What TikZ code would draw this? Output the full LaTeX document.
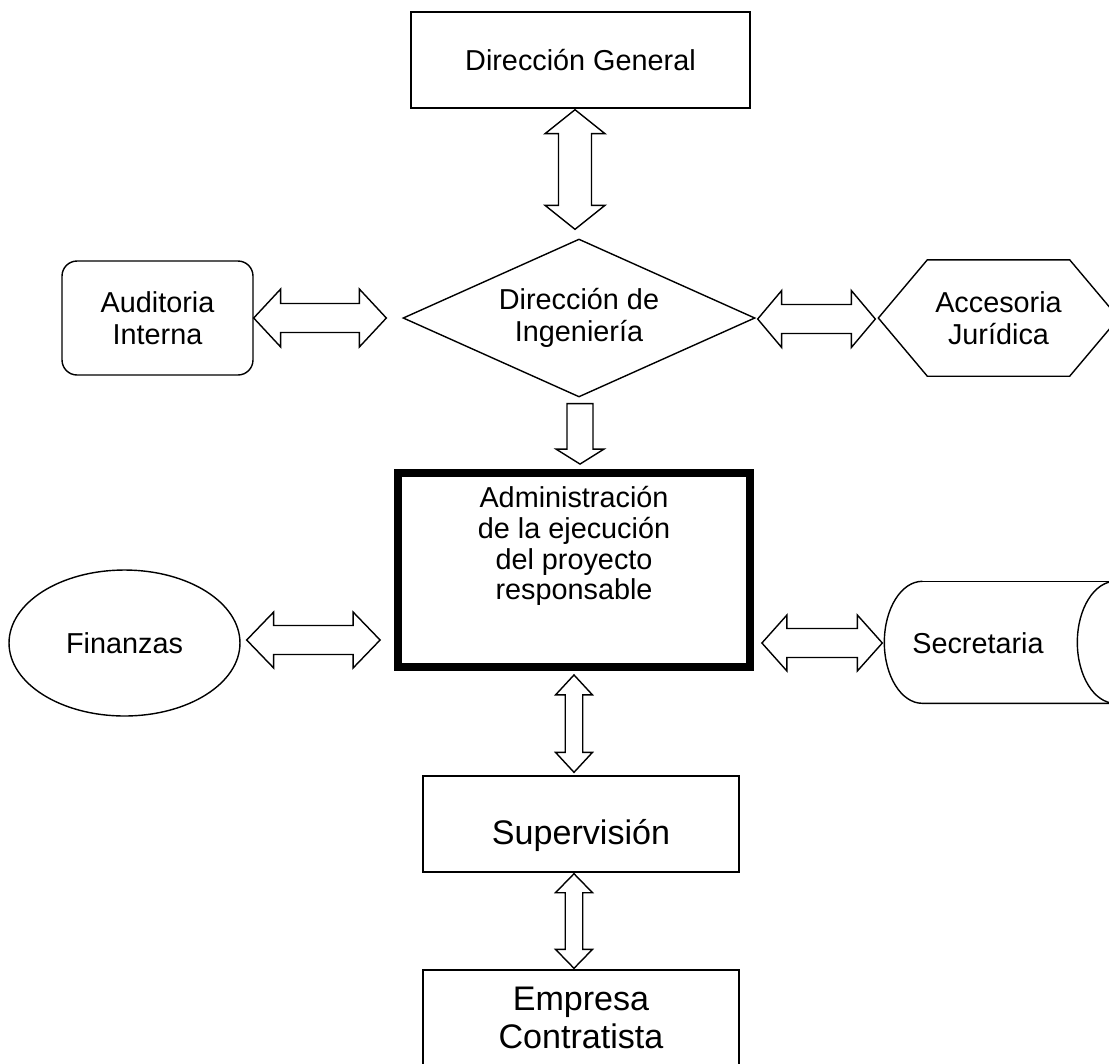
\documentclass[tikz,border=0pt]{standalone}
\usepackage{fontspec}
\setmainfont{Liberation Sans}
\usetikzlibrary{positioning,calc,shapes.geometric}

% flecha doble hueca: inicio, fin, largo punta, media punta, medio cuerpo
\newcommand{\dblarrow}[5]{%
  \draw[flecha] (#1) -- ($(#1)!#3!(#2)!#4!90:(#2)$) -- ($(#1)!#3!(#2)!#5!90:(#2)$)
    -- ($(#2)!#3!(#1)!#5!-90:(#1)$) -- ($(#2)!#3!(#1)!#4!-90:(#1)$) -- (#2)
    -- ($(#2)!#3!(#1)!#4!90:(#1)$) -- ($(#2)!#3!(#1)!#5!90:(#1)$)
    -- ($(#1)!#3!(#2)!#5!-90:(#2)$) -- ($(#1)!#3!(#2)!#4!-90:(#2)$) -- cycle;}
% flecha simple hueca
\newcommand{\onearrow}[5]{%
  \draw[flecha] ($(#1)!#5!90:(#2)$) -- ($(#2)!#3!(#1)!#5!-90:(#1)$)
    -- ($(#2)!#3!(#1)!#4!-90:(#1)$) -- (#2) -- ($(#2)!#3!(#1)!#4!90:(#1)$)
    -- ($(#2)!#3!(#1)!#5!90:(#1)$) -- ($(#1)!#5!-90:(#2)$) -- cycle;}

\begin{document}
\begin{tikzpicture}[x=0.02cm, y=-0.02cm,
  caja/.style={draw, line width=0.8pt, inner sep=0pt, align=center,
    font=\fontsize{16.4}{18.4}\selectfont},
  grande/.style={font=\fontsize{19.4}{22}\selectfont},
  linea/.style={line width=0.8pt},
  flecha/.style={draw, line width=0.8pt, line join=miter, fill=white}]
\useasboundingbox (0,0) rectangle (1109,1063);
\clip (0,0) rectangle (1109,1063);

% nodos
\node[caja, minimum width=6.78cm, minimum height=1.92cm] (dg) at (580.5,60) {Dirección General};
\node[caja, diamond, aspect=2.2, minimum width=7.04cm, minimum height=3.16cm] (ing) at (579,318) {Dirección de\\Ingeniería};
\node[caja, rounded corners=0.3cm, minimum width=3.82cm, minimum height=2.28cm] (aud) at (157.5,318) {Auditoria\\Interna};
\node[caja, draw=none, minimum width=4.78cm, minimum height=2.3cm] (acc) at (998.5,318) {Accesoria\\Jurídica};
\node[caja, line width=4.5pt, minimum width=7.04cm, minimum height=3.88cm, text depth=30.5pt,
  font=\fontsize{16.4}{17.4}\selectfont] (adm) at (574,570)
  {Administración\\de la ejecución\\del proyecto\\responsable};
\node[caja, ellipse, minimum width=4.62cm, minimum height=2.92cm] (fin) at (124.5,643) {Finanzas};
\node[caja, draw=none, minimum width=3.72cm, minimum height=2.44cm] (sec) at (978,643) {Secretaria};
\node[caja, grande, minimum width=6.32cm, minimum height=1.92cm, text height=27pt] (sup) at (581,824) {Supervisión};
\node[caja, grande, minimum width=6.32cm, minimum height=1.92cm] (emp) at (581,1018) {Empresa\\Contratista};

% contornos
\draw[linea] (acc.west) -- ($(acc.north west)+(49,0)$) -- ($(acc.north east)+(-49,0)$) -- (acc.east)
  -- ($(acc.south east)+(-49,0)$) -- ($(acc.south west)+(49,0)$) -- cycle;
\draw[linea] ($(sec.north west)+(38,0)$) coordinate (s1)
  arc[start angle=270, end angle=90, x radius=38, y radius=61] -- ++(193,0) coordinate (s2);
\draw[linea] (s1) -- ++(193,0);
\draw[linea] ($(s2)+(0,-61)$) ellipse [x radius=38, y radius=61];

% flechas
\coordinate (a1s) at ($(dg.south)+(-5.5,1)$);
\coordinate (a1e) at ($(ing.north)+(-4,-9)$);
\dblarrow{a1s}{a1e}{0.48cm}{0.6cm}{0.33cm}
\coordinate (a2e) at ($(ing.west)+(-16,0)$);
\dblarrow{aud.east}{a2e}{0.54cm}{0.58cm}{0.29cm}
\coordinate (a3s) at ($(ing.east)+(2,1)$);
\coordinate (a3e) at ($(acc.west)+(-3,1)$);
\dblarrow{a3s}{a3e}{0.48cm}{0.57cm}{0.29cm}
\coordinate (a4s) at ($(ing.south)+(1,6)$);
\coordinate (a4e) at ($(adm.north)+(6,-5)$);
\onearrow{a4s}{a4e}{0.3cm}{0.48cm}{0.26cm}
\coordinate (a5s) at ($(adm.south)+(0,4)$);
\coordinate (a5e) at ($(sup.north)+(-7,-3)$);
\dblarrow{a5s}{a5e}{0.4cm}{0.37cm}{0.175cm}
\coordinate (a6s) at ($(sup.south)+(-7,1)$);
\coordinate (a6e) at ($(emp.north)+(-7,-1)$);
\dblarrow{a6s}{a6e}{0.38cm}{0.37cm}{0.175cm}
\coordinate (a7s) at ($(fin.east)+(6,-3)$);
\coordinate (a7e) at ($(adm.west |- fin.east)+(-14,-3)$);
\dblarrow{a7s}{a7e}{0.54cm}{0.56cm}{0.29cm}
\coordinate (a8s) at ($(adm.east |- sec.west)+(8,0)$);
\coordinate (a8e) at ($(sec.west)+(-2,0)$);
\dblarrow{a8s}{a8e}{0.5cm}{0.56cm}{0.29cm}
\end{tikzpicture}
\end{document}
